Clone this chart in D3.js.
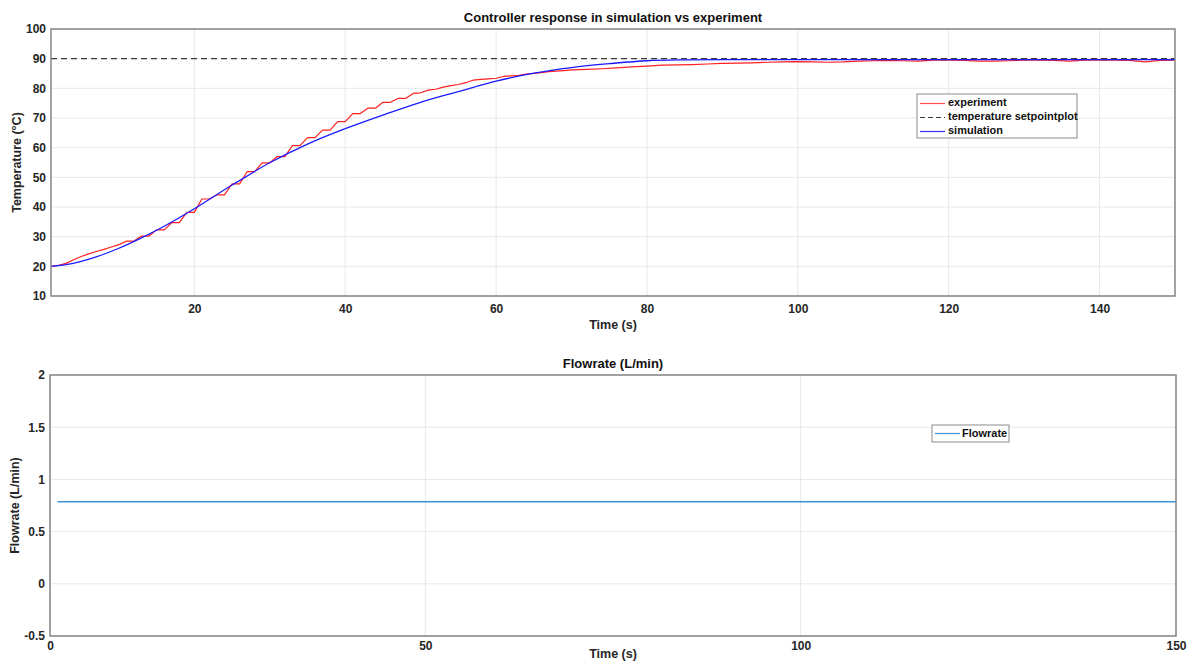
<!DOCTYPE html>
<html>
<head>
<meta charset="utf-8">
<script src="https://cdn.jsdelivr.net/npm/d3@7"></script>
<style>
  html, body { margin: 0; padding: 0; background: #fff; }
  svg { display: block; font-family: "Liberation Sans", Arial, sans-serif; }
  .tick text { font-weight: bold; font-size: 12px; fill: #262626; }
</style>
</head>
<body>
<svg id="chart" width="1189" height="661"></svg>
<script>
// ---------------- DATA ----------------
// Experiment (temperature, °C) sampled at 1 s up to 70 s, then every 2 s
const expTime = d3.range(1, 71).concat(d3.range(72, 151, 2));
const expTemp = [
  20.0, 20.3, 21.0, 22.2, 23.3, 24.2, 25.0, 25.7, 26.5, 27.3, 28.5, 28.5,
  30.2, 30.2, 32.3, 32.3, 34.7, 34.7, 38.2, 38.2, 42.7, 42.7, 44.1, 44.1, 47.8, 47.8,
  51.9, 51.9, 54.9, 54.9, 57.0, 57.0, 60.7, 60.7, 63.4, 63.4, 65.9, 65.9, 68.8, 68.8,
  71.5, 71.5, 73.3, 73.3, 75.3, 75.3, 76.6, 76.6,
  78.3, 78.5, 79.4, 79.7, 80.4, 80.9, 81.3, 81.9, 82.8, 83.0, 83.2, 83.4, 84.0, 84.2,
  84.4, 84.8, 85.0, 85.3, 85.6, 85.8, 86.0, 86.2,
  86.4, 86.6, 86.9, 87.2, 87.5, 87.8, 87.9, 88.0, 88.2, 88.4,
  88.5, 88.6, 88.8, 88.9, 89.0, 88.9, 88.8, 88.9, 89.2, 89.3,
  89.4, 89.3, 89.2, 89.5, 89.5, 89.4, 89.2, 89.2, 89.3, 89.5,
  89.5, 89.4, 89.2, 89.5, 89.5, 89.5, 89.4, 88.9, 89.4, 89.5
];
// Simulation
const simTime = [1, 3, 5, 7, 10, 13, 16, 20, 25, 30, 35, 40, 45, 50, 55, 60, 65, 70, 75, 80, 85, 90, 100, 110, 120, 130, 140, 150];
const simTemp = [20.0, 20.6, 21.7, 23.2, 26.1, 29.6, 33.5, 39.4, 47.4, 54.9, 61.2, 66.4, 71.0, 75.3, 78.9, 82.4, 85.1, 87.0, 88.3, 89.3, 89.6, 89.7, 89.7, 89.7, 89.7, 89.7, 89.7, 89.7];
// Setpoint
const setTime = [1, 150];
const setTemp = [90, 90];
// Flowrate
const flowTime = [1, 150];
const flowRate = [0.785, 0.785];

// Ticks
const topXTicks = [20, 40, 60, 80, 100, 120, 140];
const topYTicks = [10, 20, 30, 40, 50, 60, 70, 80, 90, 100];
const botXTicks = [0, 50, 100, 150];
const botYTicks = [-0.5, 0, 0.5, 1, 1.5, 2];

// ---------------- DRAW ----------------
const svg = d3.select("#chart");
const frameColor = "#858585";
const gridColor = "#e8e8e8";

function panel(cfg) {
  const x = d3.scaleLinear().domain(cfg.xDomain).range([cfg.left, cfg.right]);
  const y = d3.scaleLinear().domain(cfg.yDomain).range([cfg.bottom, cfg.top]);
  const g = svg.append("g");

  // grid
  g.append("g").selectAll("line").data(cfg.xTicks).join("line")
    .attr("x1", d => x(d)).attr("x2", d => x(d))
    .attr("y1", cfg.top).attr("y2", cfg.bottom)
    .attr("stroke", gridColor).attr("stroke-width", 1);
  g.append("g").selectAll("line").data(cfg.yTicks).join("line")
    .attr("x1", cfg.left).attr("x2", cfg.right)
    .attr("y1", d => y(d)).attr("y2", d => y(d))
    .attr("stroke", gridColor).attr("stroke-width", 1);

  // axes (tick labels)
  const xa = g.append("g").attr("transform", `translate(0,${cfg.bottom})`)
    .call(d3.axisBottom(x).tickValues(cfg.xTicks).tickSize(0).tickPadding(cfg.xPad).tickFormat(d3.format("")));
  xa.select(".domain").remove();
  const ya = g.append("g").attr("transform", `translate(${cfg.left},0)`)
    .call(d3.axisLeft(y).tickValues(cfg.yTicks).tickSize(0).tickPadding(5).tickFormat(d => String(d)));
  ya.select(".domain").remove();

  const clipId = "clip" + cfg.id;
  svg.append("clipPath").attr("id", clipId).append("rect")
    .attr("x", cfg.left).attr("y", cfg.top)
    .attr("width", cfg.right - cfg.left).attr("height", cfg.bottom - cfg.top);
  const plot = g.append("g").attr("clip-path", `url(#${clipId})`);

  // frame
  g.append("rect").attr("x", cfg.left).attr("y", cfg.top)
    .attr("width", cfg.right - cfg.left).attr("height", cfg.bottom - cfg.top)
    .attr("fill", "none").attr("stroke", frameColor).attr("stroke-width", 1.5);

  // title
  g.append("text").attr("x", (cfg.left + cfg.right) / 2).attr("y", cfg.top - 7)
    .attr("text-anchor", "middle").attr("font-weight", "bold").attr("font-size", 13)
    .attr("fill", "#111").text(cfg.title);
  // x label
  g.append("text").attr("x", (cfg.left + cfg.right) / 2).attr("y", cfg.xLabelY)
    .attr("text-anchor", "middle").attr("dominant-baseline", "middle")
    .attr("font-weight", "bold").attr("font-size", 12.5).attr("fill", "#262626").text(cfg.xLabel);
  // y label
  g.append("text").attr("transform", `translate(${cfg.yLabelX},${(cfg.top + cfg.bottom) / 2}) rotate(-90)`)
    .attr("text-anchor", "middle").attr("dominant-baseline", "middle")
    .attr("font-weight", "bold").attr("font-size", 12.5).attr("fill", "#262626").text(cfg.yLabel);

  return { x, y, plot, g };
}

// Top panel
const topP = panel({
  id: 1, left: 51, right: 1175, top: 29, bottom: 296,
  xDomain: [1, 150], yDomain: [10, 100],
  xTicks: topXTicks, yTicks: topYTicks, xPad: 8,
  title: "Controller response in simulation vs experiment",
  xLabel: "Time (s)", xLabelY: 326,
  yLabel: "Temperature (°C)", yLabelX: 18
});

const lineT = d3.line().x(d => topP.x(d[0])).y(d => topP.y(d[1]));
topP.plot.append("path").datum(d3.zip(setTime, setTemp))
  .attr("d", lineT).attr("fill", "none").attr("stroke", "#3a3a3a")
  .attr("stroke-width", 1.2).attr("stroke-dasharray", "6,4");
topP.plot.append("path").datum(d3.zip(expTime, expTemp))
  .attr("d", lineT).attr("fill", "none").attr("stroke", "#ff2020")
  .attr("stroke-width", 1.2).attr("stroke-linejoin", "round");
topP.plot.append("path").datum(d3.zip(simTime, simTemp))
  .attr("d", d3.line().x(d => topP.x(d[0])).y(d => topP.y(d[1])).curve(d3.curveMonotoneX))
  .attr("fill", "none").attr("stroke", "#1a1aff").attr("stroke-width", 1.3);

// Top legend
const legTop = svg.append("g");
legTop.append("rect").attr("x", 917).attr("y", 94).attr("width", 160).attr("height", 44)
  .attr("fill", "#fff").attr("stroke", "#8c8c8c").attr("stroke-width", 1);
const topLegend = [
  { name: "experiment", color: "#ff4d4d", dash: null },
  { name: "temperature setpointplot", color: "#3a3a3a", dash: "5,3" },
  { name: "simulation", color: "#3333ff", dash: null }
];
topLegend.forEach((d, i) => {
  const yy = 103.5 + i * 14;
  legTop.append("line").attr("x1", 920).attr("x2", 945).attr("y1", yy).attr("y2", yy)
    .attr("stroke", d.color).attr("stroke-width", 1.2).attr("stroke-dasharray", d.dash);
  legTop.append("text").attr("x", 948).attr("y", yy).attr("dominant-baseline", "middle")
    .attr("font-size", 11).attr("font-weight", "bold").attr("fill", "#111").text(d.name);
});

// Bottom panel
const botP = panel({
  id: 2, left: 50, right: 1176, top: 375, bottom: 636,
  xDomain: [0, 150], yDomain: [-0.5, 2],
  xTicks: botXTicks, yTicks: botYTicks, xPad: 5,
  title: "Flowrate (L/min)",
  xLabel: "Time (s)", xLabelY: 655,
  yLabel: "Flowrate (L/min)", yLabelX: 16
});
botP.plot.append("path").datum(d3.zip(flowTime, flowRate))
  .attr("d", d3.line().x(d => botP.x(d[0])).y(d => botP.y(d[1])))
  .attr("fill", "none").attr("stroke", "#3b93d6").attr("stroke-width", 1.5);

// Bottom legend
const legBot = svg.append("g");
legBot.append("rect").attr("x", 932).attr("y", 425).attr("width", 77).attr("height", 17)
  .attr("fill", "#fff").attr("stroke", "#8c8c8c").attr("stroke-width", 1);
legBot.append("line").attr("x1", 935).attr("x2", 960).attr("y1", 433.5).attr("y2", 433.5)
  .attr("stroke", "#3b93d6").attr("stroke-width", 1.2);
legBot.append("text").attr("x", 962).attr("y", 434).attr("dominant-baseline", "middle")
  .attr("font-size", 11).attr("font-weight", "bold").attr("fill", "#111").text("Flowrate");
</script>
</body>
</html>
